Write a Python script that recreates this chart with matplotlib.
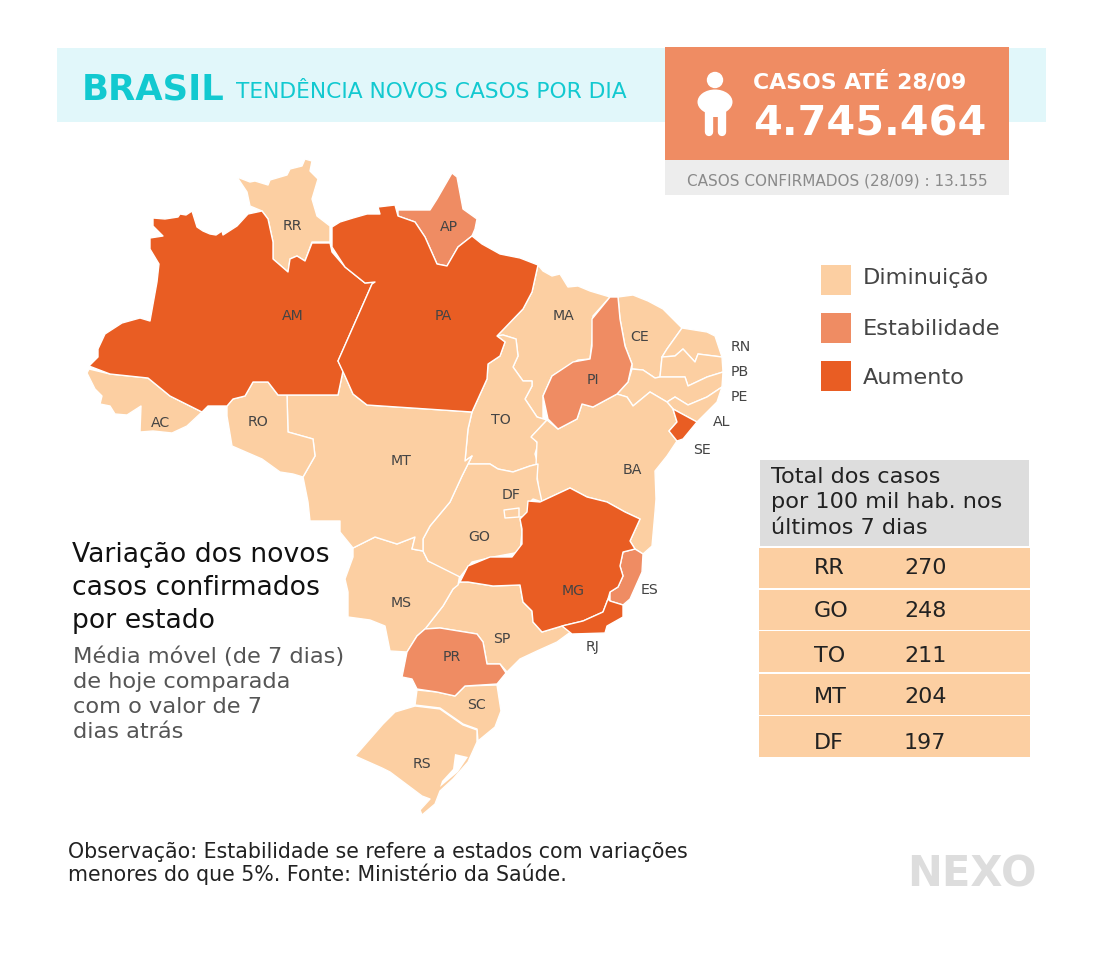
import matplotlib
matplotlib.use('Agg')
import matplotlib.pyplot as plt
from matplotlib.patches import Polygon, Rectangle, Circle, Ellipse

plt.rcParams['font.family'] = ['DejaVu Sans']

# state outlines, pixel coordinates
AM = [(153,219),(165,220),(178,218),(180,215),(186,216),(192,212),(197,228),(203,232),(210,235),(216,236),(222,232),(223,236),(237,227),(248,215),(262,212),(268,220),(273,243),(273,260),(288,273),(290,260),(297,257),(305,262),(312,244),(330,244),(332,253),(345,268),(365,284),(375,283),(372,285),(338,362),(343,372),(338,396),(287,396),(278,396),(268,383),(253,383),(245,397),(233,400),(227,407),(217,407),(208,407),(202,413),(170,397),(148,379),(110,375),(89,367),(98,358),(98,350),(105,335),(122,324),(140,319),(150,322),(157,283),(159,265),(150,250),(150,239),(163,237),(153,227)]
RR = [(237,178),(250,183),(255,182),(268,186),(270,181),(287,176),(290,170),(302,167),(305,160),(312,162),(310,172),(318,180),(312,200),(317,217),(330,227),(330,243),(312,243),(305,262),(297,257),(290,260),(288,273),(273,260),(273,243),(268,220),(262,212),(250,207),(247,193)]
PA = [(332,228),(340,223),(353,219),(367,215),(380,215),(378,208),(395,206),(398,217),(415,223),(425,238),(437,265),(447,267),(458,248),(472,237),(482,245),(500,255),(520,259),(538,266),(532,293),(523,310),(497,337),(505,343),(500,357),(488,365),(487,380),(472,413),(367,406),(353,395),(345,377),(338,362),(372,285),(375,283),(365,284),(345,268),(332,248)]
AP = [(452,174),(457,178),(463,210),(477,220),(475,230),(472,237),(458,248),(447,267),(437,265),(425,238),(415,223),(398,217),(398,211),(430,211),(437,200)]
MA = [(538,266),(543,272),(552,277),(560,275),(568,288),(578,287),(590,292),(610,298),(593,317),(592,342),(590,360),(578,361),(552,377),(543,397),(543,420),(537,418),(525,400),(532,387),(532,382),(523,382),(513,368),(518,357),(516,340),(503,336),(497,337),(523,310),(532,293)]
TO = [(503,336),(516,340),(518,357),(513,368),(523,382),(532,382),(532,387),(525,400),(537,418),(547,421),(532,437),(538,445),(535,455),(538,465),(530,467),(513,473),(498,470),(490,465),(468,465),(472,457),(465,462),(468,430),(472,413),(487,380),(488,365),(500,357),(505,343),(497,337)]
PI = [(610,298),(618,298),(620,320),(625,347),(632,365),(628,383),(617,395),(593,408),(582,405),(577,420),(558,430),(548,420),(543,397),(552,377),(573,363),(590,360),(592,347),(592,320)]
CE = [(618,298),(633,296),(648,302),(663,310),(682,329),(667,350),(662,358),(660,378),(655,379),(643,371),(632,370),(632,365),(625,347),(620,320)]
RN = [(682,329),(707,333),(715,337),(722,358),(698,355),(695,363),(683,350),(675,357),(662,358),(667,350)]
PB = [(662,358),(675,357),(683,350),(695,363),(698,355),(722,358),(723,373),(707,378),(688,387),(685,378),(660,378)]
PE = [(632,370),(643,371),(655,379),(660,378),(685,378),(688,387),(707,378),(723,373),(722,388),(707,398),(688,406),(675,398),(667,403),(650,393),(633,407),(627,398),(617,395),(628,383)]
AL = [(667,403),(675,398),(688,406),(707,398),(722,388),(717,403),(697,423),(673,410)]
SE = [(673,410),(697,423),(683,440),(677,442),(669,432),(677,423)]
BA = [(547,421),(558,430),(577,420),(582,405),(593,408),(617,395),(627,398),(633,407),(650,393),(667,403),(673,410),(677,423),(669,432),(677,442),(667,457),(655,472),(656,500),(655,513),(652,547),(643,555),(635,550),(630,542),(640,520),(625,513),(607,503),(587,498),(570,489),(540,503),(536,467),(537,443),(531,438)]
MG = [(570,489),(587,498),(607,503),(625,513),(640,520),(630,542),(635,550),(623,553),(620,567),(623,577),(618,588),(610,593),(608,600),(603,613),(583,622),(562,627),(542,633),(533,623),(532,612),(523,603),(520,586),(493,587),(468,583),(460,583),(468,567),(490,558),(512,558),(522,545),(522,530),(520,520),(527,513),(528,502),(540,503)]
ES = [(623,553),(635,550),(643,555),(642,573),(630,600),(623,606),(610,602),(610,593),(618,588),(623,577),(620,567)]
RJ = [(608,600),(610,602),(623,606),(623,618),(607,627),(605,634),(572,635),(562,627),(583,622),(603,613)]
SP = [(460,583),(468,583),(493,587),(520,586),(523,603),(532,612),(533,623),(542,633),(562,627),(572,632),(557,643),(537,652),(520,660),(507,673),(500,665),(487,665),(483,643),(477,635),(440,629),(425,630),(443,607),(453,590)]
PR = [(425,630),(440,629),(477,635),(483,643),(487,665),(500,665),(506,674),(497,685),(465,687),(455,697),(437,693),(417,690),(412,680),(402,678),(407,653),(417,637)]
SC = [(417,691),(437,693),(455,697),(465,687),(497,686),(501,712),(495,728),(478,742),(477,730),(463,725),(440,709),(415,706)]
RS = [(415,707),(440,710),(463,726),(477,731),(477,743),(468,763),(453,780),(440,792),(435,805),(422,816),(420,811),(430,800),(422,797),(390,773),(382,769),(355,757),(383,725),(395,713)]
LAGOA = [(455,755),(468,758),(458,773),(440,788),(442,782),(453,770)]
MS = [(353,549),(375,538),(397,545),(415,538),(412,550),(423,552),(428,562),(460,575),(458,586),(453,590),(443,607),(425,630),(417,637),(407,653),(390,652),(385,627),(370,621),(348,618),(348,593),(345,580),(353,558)]
GO = [(468,465),(490,465),(498,470),(513,473),(530,467),(538,465),(537,480),(542,503),(533,500),(528,505),(528,517),(520,518),(522,533),(520,553),(493,558),(472,563),(460,578),(428,562),(423,552),(423,540),(430,527),(450,503),(462,477)]
DF = [(504,511),(519,509),(519,518),(505,519)]
MT = [(287,396),(338,396),(343,372),(353,395),(367,406),(472,413),(468,430),(465,462),(472,457),(462,477),(450,503),(430,527),(423,540),(423,552),(412,550),(415,538),(397,545),(375,538),(353,549),(340,533),(340,522),(310,522),(308,503),(303,478),(315,457),(313,440),(288,433)]
RO = [(253,383),(268,383),(278,396),(287,396),(288,433),(313,440),(315,457),(303,478),(293,475),(280,473),(262,460),(232,447),(227,417),(227,407),(233,400),(245,397)]
AC = [(89,370),(110,375),(148,379),(170,397),(202,413),(187,427),(172,434),(153,432),(140,433),(141,407),(127,416),(115,415),(110,407),(100,405),(102,397),(95,390),(87,374)]

diminuicao = [RR, MA, TO, CE, RN, PB, PE, AL, BA, SP, SC, RS, MS, GO, DF, MT, RO, AC]
estabilidade = [AP, PI, ES, PR]
aumento = [AM, PA, SE, MG, RJ]

# label, x, y
state_labels = [('RR',292,226),('AM',293,316),('AP',449,227),('PA',443,316),('MA',564,316),('PI',593,380),('CE',640,337),('RN',741,347),('PB',740,372),('PE',739,397),('AL',722,422),('SE',702,450),('TO',501,420),('BA',632,470),('RO',258,422),('AC',161,423),('MT',401,461),('DF',511,495),('GO',479,537),('MS',401,603),('MG',573,591),('ES',650,590),('SP',502,639),('RJ',593,647),('PR',452,657),('SC',477,705),('RS',422,764)]

table_states = ['RR', 'GO', 'TO', 'MT', 'DF']
table_values = [270, 248, 211, 204, 197]
table_rows = [(549,589,574),(591,631,617),(632,673,662),(675,716,703),(717,758,749)]

legend_names = ['Diminuição', 'Estabilidade', 'Aumento']

LIGHT = '#FCCFA2'
MID = '#EF8C63'
DARK = '#E95D23'

fig = plt.figure(figsize=(11.01, 9.62), dpi=100)
ax = fig.add_axes([0, 0, 1, 1])
ax.set_xlim(0, 1101)
ax.set_ylim(962, 0)
ax.axis('off')


def put(x, y, s, size, color='#222222', weight='normal', ha='left', va='baseline'):
    ax.text(x, y, s, fontsize=size, color=color, fontweight=weight, ha=ha, va=va)


def box(x0, y0, x1, y1, color):
    ax.add_patch(Rectangle((x0, y0), x1 - x0, y1 - y0, fc=color, ec='none'))


# header
box(57, 49, 1046, 123, '#E1F7FA')
box(665, 48, 1009, 161, MID)
box(665, 161, 1009, 196, '#EDEDED')
put(82, 99, 'BRASIL', 25.5, '#12C9D0', 'bold')
put(236, 98, 'TENDÊNCIA NOVOS CASOS POR DIA', 15.7, '#12C9D0')
put(753, 88, 'CASOS ATÉ 28/09', 15.8, 'white', 'bold')
put(753, 136, '4.745.464', 29.8, 'white', 'bold')
put(687, 185, 'CASOS CONFIRMADOS (28/09) : 13.155', 11, '#8A8A8A')

# person icon
ax.add_patch(Circle((715, 81), 8.2, fc='white', ec='none'))
ax.add_patch(Ellipse((715, 103), 35, 25, fc='white', ec='none'))
box(706, 105, 724, 118, 'white')
ax.plot([708.5, 708.5], [112, 133], color='white', lw=6, solid_capstyle='round')
ax.plot([721.5, 721.5], [112, 133], color='white', lw=6, solid_capstyle='round')

# map
for group, color in [(diminuicao, LIGHT), (estabilidade, MID), (aumento, DARK)]:
    for outline in group:
        ax.add_patch(Polygon(outline, closed=True, fc=color, ec='white', lw=1, joinstyle='round'))
ax.add_patch(Polygon(LAGOA, closed=True, fc='white', ec='none'))

for name, x, y in state_labels:
    put(x, y, name, 10.2, '#444444', ha='center', va='center')

# legend
for (y0, base), name, color in zip([(266, 284), (314, 335), (362, 384)], legend_names, [LIGHT, MID, DARK]):
    box(821, y0, 851, y0 + 30, color)
    put(863, base, name, 16.2, '#444444')

# table
box(760, 461, 1029, 547, '#DDDDDD')
for y, line in zip([483, 508, 534], ['Total dos casos', 'por 100 mil hab. nos', 'últimos 7 dias']):
    put(771, y, line, 16.1, '#222222')
for (y0, y1, base), st, val in zip(table_rows, table_states, table_values):
    box(759, y0, 1030, y1, LIGHT)
    put(814, base, st, 16, '#222222')
    put(904, base, str(val), 16, '#222222')

# side text
for y, line in zip([562, 595, 628], ['Variação dos novos', 'casos confirmados', 'por estado']):
    put(72, y, line, 19.2, '#111111')
for y, line in zip([663, 688, 713, 738], ['Média móvel (de 7 dias)', 'de hoje comparada', 'com o valor de 7', 'dias atrás']):
    put(73, y, line, 16.2, '#555555')

# footer
put(68, 858, 'Observação: Estabilidade se refere a estados com variações', 14.8, '#222222')
put(68, 881, 'menores do que 5%. Fonte: Ministério da Saúde.', 14.8, '#222222')
put(907, 887, 'NEXO', 30, '#DDDDDD', 'bold')

fig.savefig('out.png', dpi=100)
